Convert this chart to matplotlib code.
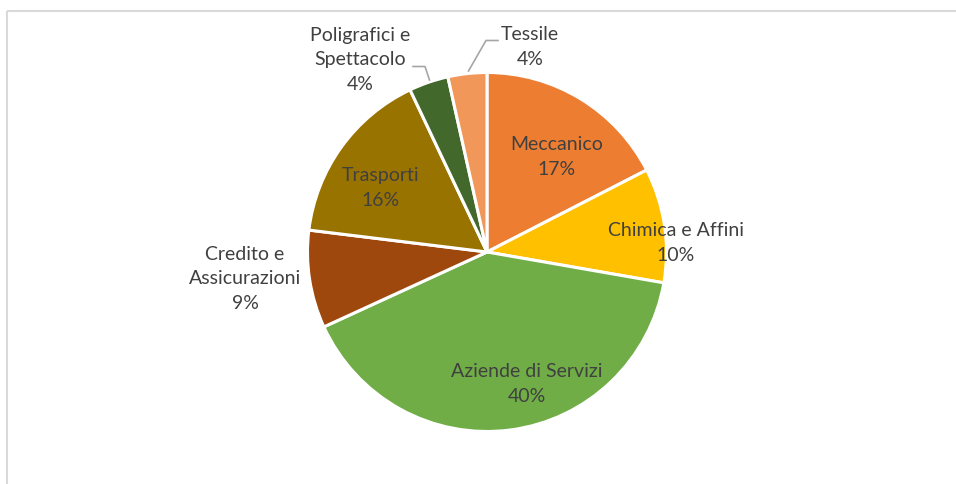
import matplotlib
matplotlib.use("Agg")
import matplotlib.pyplot as plt
from matplotlib.patches import Rectangle

plt.rcParams['font.family'] = ['Lato', 'DejaVu Sans']

# data
settori = ["Meccanico", "Chimica e Affini", "Aziende di Servizi",
           "Credito e\nAssicurazioni", "Trasporti",
           "Poligrafici e\nSpettacolo", "Tessile"]
quote = [17.45, 10.3, 40.4, 8.8, 16.0, 3.55, 3.5]
colori = ["#ED7D31", "#FFC000", "#70AD47", "#9E480E", "#997300",
          "#43682B", "#F1975A"]

W, H = 956, 484
fig = plt.figure(figsize=(W / 100, H / 100), dpi=100)
ax = fig.add_axes([0, 0, 1, 1])

cx, cy, R = 487, 252, 179.5
# y axis is inverted below, so start at -90 and go "counterclock" = clockwise on screen
wedges, _ = ax.pie(quote, colors=colori, startangle=-90, counterclock=True,
                   center=(cx, cy), radius=R, frame=True,
                   wedgeprops=dict(edgecolor="white", linewidth=2.2))
ax.set_xlim(0, W)
ax.set_ylim(H, 0)
ax.set_aspect('equal')
ax.axis('off')

# chart area frame (extends past right/bottom edge)
ax.add_patch(Rectangle((7.5, 10.5), W + 20, H + 20, fill=False,
                       edgecolor="#D9D9D9", linewidth=1.5, clip_on=False))

# label positions (pixel layout)
pos = [(557, 157), (676, 243), (527, 384), (245, 279), (381, 188),
       (360, 60), (530, 47)]
for nome, q, (x, y) in zip(settori, quote, pos):
    ax.text(x, y, f"{nome}\n{q:.0f}%", ha="center", va="center",
            fontsize=14, color="#404040", linespacing=1.55)

# leader lines
ax.plot([413, 425, 429.5], [66.5, 66.5, 80], color="#A6A6A6", lw=1.2)
ax.plot([498, 486, 468.5], [40.5, 40.5, 71], color="#A6A6A6", lw=1.2)

fig.savefig("out.png", dpi=100, facecolor="white")
